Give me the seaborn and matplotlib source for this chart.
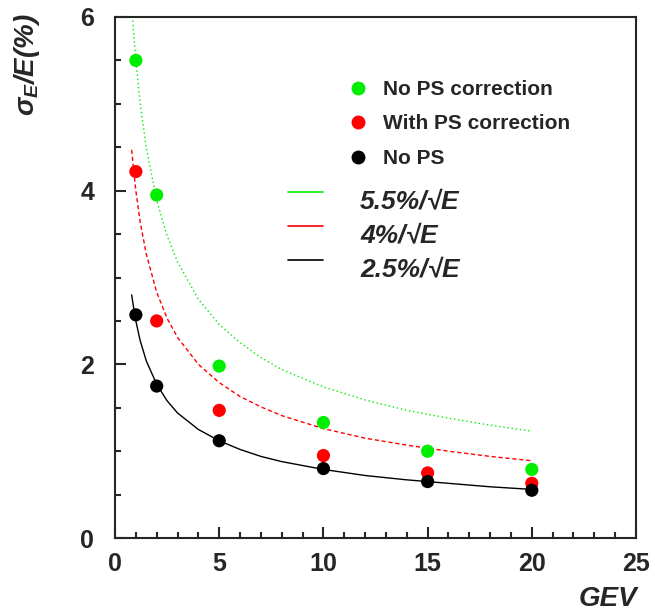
import numpy as np
import pandas as pd
import matplotlib
matplotlib.use("Agg")
import matplotlib.pyplot as plt
from matplotlib.lines import Line2D
import seaborn as sns

# ── data ─────────────────────────────────────────────────────────────────────
energy = [1, 2, 5, 10, 15, 20]
no_ps_corr = [5.50, 3.95, 1.98, 1.33, 1.00, 0.79]
with_ps_corr = [4.22, 2.50, 1.47, 0.95, 0.75, 0.63]
no_ps = [2.57, 1.75, 1.12, 0.80, 0.65, 0.55]

# resolution curves
e_curve = [0.8, 0.9, 1, 1.2, 1.5, 2, 2.5, 3, 4, 5, 6, 7, 8, 10, 12, 14, 16, 18, 20]
curve_55 = [6.15, 5.80, 5.50, 5.02, 4.49, 3.89, 3.48, 3.18, 2.75, 2.46, 2.25,
            2.08, 1.94, 1.74, 1.59, 1.47, 1.38, 1.30, 1.23]
curve_40 = [4.47, 4.22, 4.00, 3.65, 3.27, 2.83, 2.53, 2.31, 2.00, 1.79, 1.63,
            1.51, 1.41, 1.26, 1.15, 1.07, 1.00, 0.94, 0.89]
curve_25 = [2.80, 2.64, 2.50, 2.28, 2.04, 1.77, 1.58, 1.44, 1.25, 1.12, 1.02,
            0.94, 0.88, 0.79, 0.72, 0.67, 0.63, 0.59, 0.56]

point_labels = ["No PS correction", "With PS correction", "No PS"]
curve_labels = ["5.5%/√E", "4%/√E", "2.5%/√E"]
colors = ["#00ee00", "#ff0000", "#000000"]

pts = pd.DataFrame({
    "E": energy * 3,
    "res": no_ps_corr + with_ps_corr + no_ps,
    "set": np.repeat(point_labels, len(energy)),
})
curves = pd.DataFrame({
    "E": e_curve * 3,
    "res": curve_55 + curve_40 + curve_25,
    "fit": np.repeat(curve_labels, len(e_curve)),
})

# ── figure ───────────────────────────────────────────────────────────────────
sns.set_style("ticks")
plt.rcParams["font.family"] = ["Liberation Sans", "DejaVu Sans"]
plt.rcParams["mathtext.fontset"] = "custom"
plt.rcParams["mathtext.rm"] = "Liberation Sans:bold"
plt.rcParams["mathtext.it"] = "Liberation Sans:italic:bold"

fig = plt.figure(figsize=(6.55, 6.13), dpi=100)
ax = fig.add_axes([0.1756, 0.1223, 0.7954, 0.850])

styles = {"5.5%/√E": (0, (1, 2)), "4%/√E": (0, (3, 2)), "2.5%/√E": "-"}
for lab, col in zip(curve_labels, colors):
    sub = curves[curves["fit"] == lab]
    sns.lineplot(data=sub, x="E", y="res", color=col, lw=1.0,
                 linestyle=styles[lab], ax=ax, legend=False, sort=False)

sns.scatterplot(data=pts, x="E", y="res", hue="set", palette=colors,
                hue_order=point_labels, s=90, edgecolor="none", ax=ax,
                legend=False, zorder=3)

ax.set_xlim(0, 25)
ax.set_ylim(0, 6)
ax.set_xticks([0, 5, 10, 15, 20, 25])
ax.set_xticks(np.arange(0, 26, 1), minor=True)
ax.set_yticks([0, 2, 4, 6])
ax.set_yticks(np.arange(0, 6.01, 0.5), minor=True)
ax.tick_params(which="both", direction="in", width=1.5, top=False, right=False)
ax.tick_params(which="major", length=8, labelsize=18)
ax.tick_params(which="minor", length=4)
ax.tick_params(axis="x", which="major", pad=10)
ax.tick_params(axis="y", which="major", pad=15)
for lbl in ax.get_xticklabels() + ax.get_yticklabels():
    lbl.set_fontweight("bold")
for sp in ax.spines.values():
    sp.set_linewidth(1.5)

ax.set_xlabel("")
ax.set_ylabel("")
fig.text(0.9725, 0.012, "GEV", ha="right", va="baseline", fontsize=20,
         fontweight="bold", fontstyle="italic")
fig.text(0.041, 0.979, r"$\sigma_{E}$/E(%)", rotation=90, ha="center",
         va="top", fontsize=20, fontweight="bold", fontstyle="italic")

# legend for the data points
pt_handles = [Line2D([], [], marker="o", ls="none", color=c, markersize=9)
              for c in colors]
fig.legend(pt_handles, point_labels, loc="upper left",
           bbox_to_anchor=(0.5305, 0.8695), frameon=False,
           prop={"weight": "bold", "size": 15}, handlelength=1.0,
           handletextpad=0.7, labelspacing=0.74, borderpad=0,
           borderaxespad=0)

# legend for the curves: key line sits at the top of each label
for i, (lab, col) in enumerate(zip(curve_labels, colors)):
    y = 1 - (192 + 34 * i) / 613
    fig.add_artist(Line2D([288 / 655, 323 / 655], [y, y], color=col, lw=1.2,
                          transform=fig.transFigure))
    fig.text(360 / 655, y + 0.004, lab, ha="left", va="top", fontsize=19,
             fontweight="bold", fontstyle="italic")

fig.savefig("out.png", dpi=100)
